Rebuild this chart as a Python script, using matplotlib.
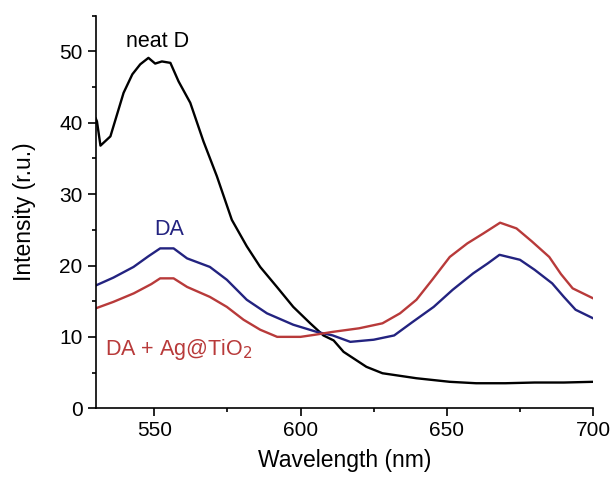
import matplotlib.pyplot as plt
from matplotlib.ticker import MultipleLocator

plt.rcParams['font.family'] = ['Liberation Sans', 'DejaVu Sans']

# neat D
wl_d = [530, 530.4, 531.6, 535, 539.5, 542.5, 545.2, 548, 550.3, 552.6, 555.5, 558.3,
        562.3, 566.8, 571.4, 576.5, 581.6, 586.2, 591.9, 597.5, 603.3, 607.8,
        611.3, 614.7, 622.5, 628, 639.6, 651, 660, 670, 680, 690, 700]
int_d = [40.6, 40.2, 36.8, 38.1, 44.2, 46.8, 48.2, 49.1, 48.3, 48.6, 48.4, 45.8,
         42.8, 37.4, 32.5, 26.4, 22.7, 19.8, 17.0, 14.2, 11.9, 10.2,
         9.5, 7.9, 5.8, 4.9, 4.2, 3.7, 3.5, 3.5, 3.6, 3.6, 3.7]

# DA
wl_da = [530, 536, 542.9, 548, 552, 556.6, 561.2, 569, 574.8, 581.6, 588.5, 597.5,
         605.5, 611, 617, 625, 632, 638, 645.5, 652, 659, 664, 668, 671, 675,
         680, 686, 690, 694, 700]
int_da = [17.2, 18.3, 19.8, 21.3, 22.4, 22.4, 21.0, 19.8, 18.0, 15.2, 13.3, 11.7,
          10.7, 10.2, 9.3, 9.6, 10.2, 12.0, 14.2, 16.6, 18.9, 20.3, 21.5, 21.2, 20.8,
          19.4, 17.5, 15.6, 13.8, 12.6]

# DA + Ag@TiO2
wl_ag = [530, 536, 543, 549, 552, 556.6, 561.2, 569, 574.8, 580.5, 586.2, 592, 600,
         605, 611, 620, 628, 634, 639.6, 645, 651, 657, 662.5, 668.2, 673.8, 679,
         685, 689, 693, 700]
int_ag = [14.0, 14.9, 16.1, 17.4, 18.2, 18.2, 17.0, 15.6, 14.2, 12.4, 11.0, 10.0, 10.0,
          10.3, 10.7, 11.2, 11.9, 13.3, 15.2, 18.0, 21.2, 23.1, 24.5, 26.0, 25.2, 23.4,
          21.2, 18.8, 16.8, 15.4]

black = 'black'
blue = '#232380'
red = '#b83a3a'

fig = plt.figure(figsize=(6.14, 4.78), dpi=100)
ax = fig.add_axes([0.156, 0.146, 0.81, 0.821])

ax.plot(wl_d, int_d, color=black, lw=1.7)
ax.plot(wl_da, int_da, color=blue, lw=1.7)
ax.plot(wl_ag, int_ag, color=red, lw=1.7)

ax.text(551, 50.6, 'neat D', color=black, fontsize=15.5, ha='center', va='baseline')
ax.text(555, 24.3, 'DA', color=blue, fontsize=15.5, ha='center', va='baseline')
ax.text(533.2, 7.4, 'DA + Ag@TiO$_2$', color=red, fontsize=15.5, ha='left', va='baseline')

ax.set_xlim(530, 700)
ax.set_ylim(0, 55)
ax.xaxis.set_major_locator(MultipleLocator(50))
ax.xaxis.set_minor_locator(MultipleLocator(25))
ax.yaxis.set_major_locator(MultipleLocator(10))
ax.yaxis.set_minor_locator(MultipleLocator(5))
ax.tick_params(which='major', direction='out', length=6, width=1.2, labelsize=15)
ax.tick_params(which='minor', direction='out', length=3, width=1.2)
ax.spines['top'].set_visible(False)
ax.spines['right'].set_visible(False)
for s in ('left', 'bottom'):
    ax.spines[s].set_linewidth(1.2)

ax.set_xlabel('Wavelength (nm)', fontsize=16.5, labelpad=6)
ax.set_ylabel('Intensity (r.u.)', fontsize=16.5, labelpad=17)

fig.savefig('out.png', dpi=100)
